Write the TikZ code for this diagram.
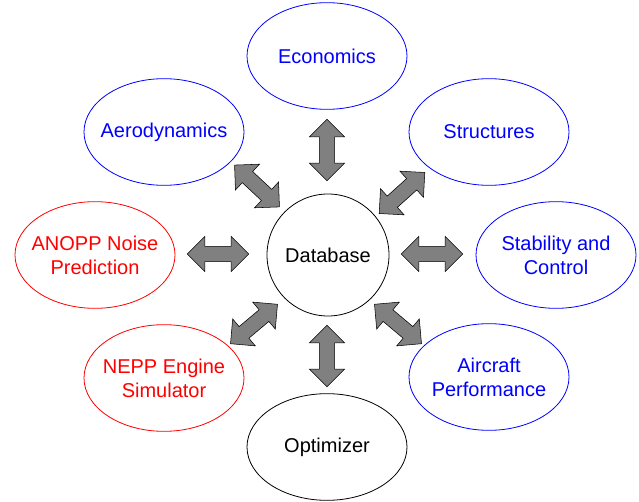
\documentclass[tikz,border=0pt]{standalone}
\usepackage{fontspec}
\setmainfont{Liberation Sans}
\usetikzlibrary{shapes.geometric, shapes.arrows, positioning, calc}

\begin{document}
\begin{tikzpicture}[x=0.75pt, y=-0.75pt]
        \tikzstyle{module} = [ellipse, minimum width=120pt, minimum height=80pt, inner sep=-12pt, draw=blue, text=blue, line width=0.6pt, align=center, font=\fontsize{15}{18}\selectfont]
        \tikzstyle{noise} = [module, draw=red, text=red]
        \tikzstyle{core} = [module, draw=black, text=black]
        \tikzstyle{link} = [double arrow, draw=black, fill=black!50, line width=0.4pt, inner xsep=0pt, inner ysep=5.5pt, minimum height=46pt, double arrow head extend=7.5pt]

        \useasboundingbox (0,0) rectangle (639,502);

        \node (db) [circle, draw=black, line width=0.6pt, minimum size=91.5pt, inner sep=0pt, font=\fontsize{15}{18}\selectfont] at (328,255) {Database};
        \node (econ) [module] at (327,56) {Economics};
        \node (aero) [module] at (164,132) {Aerodynamics};
        \node (struct) [module] at (489,132) {Structures};
        \node (anopp) [noise] at (95,255) {ANOPP Noise\\Prediction};
        \node (stab) [module] at (556,255) {Stability and\\Control};
        \node (nepp) [noise] at (164,378) {NEPP Engine\\Simulator};
        \node (perf) [module] at (489,377) {Aircraft\\Performance};
        \node (opt) [core] at (327,447) {Optimizer};

        % exchange arrows round the database
        \node (l-econ) [link, rotate=90] at (327,150) {};
        \node (l-opt) [link, rotate=90] at (327,356) {};
        \node (l-anopp) [link] at (218,254) {};
        \node (l-stab) [link] at (432,254) {};
        \node (l-aero) [link, rotate=-43] at (257,186) {};
        \node (l-struct) [link, rotate=42] at (402,193) {};
        \node (l-nepp) [link, rotate=40] at (254,324) {};
        \node (l-perf) [link, rotate=-40] at (398,324) {};
    \end{tikzpicture}
\end{document}
